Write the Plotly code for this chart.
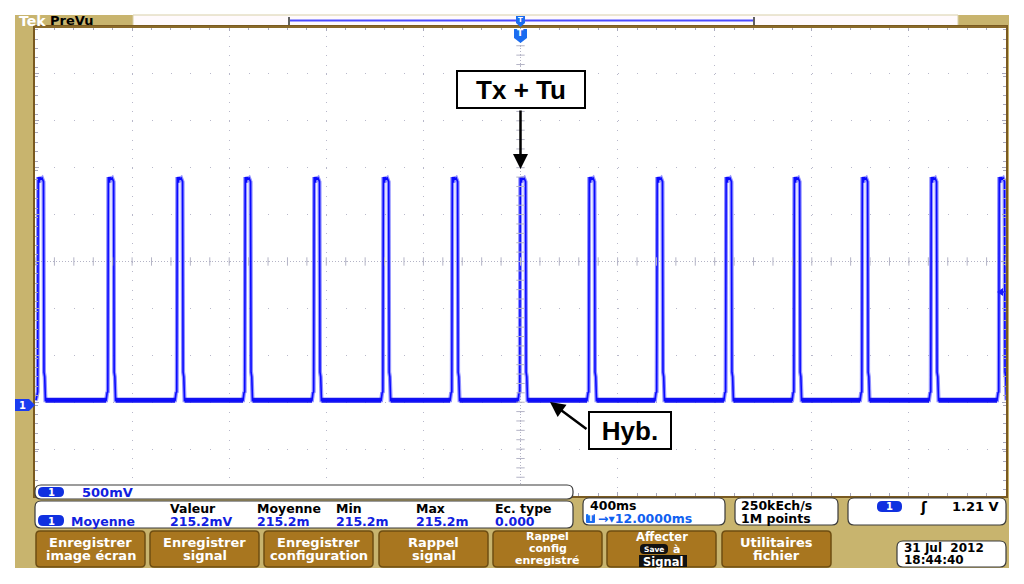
import numpy as np
import plotly.graph_objects as go

# --- data (time in ms, voltage in V) ---
rise_ms = [-1988, -1699, -1415, -1135, -851, -566, -282, -2, 282, 562, 846, 1127, 1407, 1691, 1971]
pulse_dt_ms = [-8, -4, -1, 1, 5, 8, 12, 17, 21, 23, 25, 28, 31]
pulse_v = [0.05, 0.13, 0.14, 2.43, 2.37, 2.43, 2.41, 2.42, 2.40, 2.38, 0.35, 0.30, 0.05]
baseline_v = 0.05

meas_headers = ["Valeur", "Moyenne", "Min", "Max", "Ec. type"]
meas_values = ["215.2mV", "215.2m", "215.2m", "215.2m", "0.000"]
buttons = [["Enregistrer", "image écran"], ["Enregistrer", "signal"], ["Enregistrer", "configuration"],
           ["Rappel", "signal"], ["Rappel", "config", "enregistré"], ["Affecter"],
           ["Utilitaires", "fichier"]]

# the page body adds an 8px margin, so the figure is drawn 8px smaller and
# all reference pixel positions are shifted by OFF
OFF = 8
FIG_W, FIG_H = 1024 - OFF, 584 - OFF

# screen geometry (reference pixels)
L, R, T, B = 35, 1006, 27, 496
W, H = R - L, B - T
X_RANGE = [-2000, 2000]
Y_RANGE = [-0.97, 4.03]
Y_CENTER = 1.53

BLUE = "#0a0aff"
TAN = "#c8b46e"
BROWN = "#a8761f"
FONT = "DejaVu Sans"


def px(x):
    return (x - L) / W


def py(y):
    return (B - y) / H


def rrect(x0, y0, x1, y1, r, fill, line="#3a3a3a", lw=1.2, layer="above"):
    p = (f"M {px(x0 + r)},{py(y0)} L {px(x1 - r)},{py(y0)} Q {px(x1)},{py(y0)} {px(x1)},{py(y0 + r)} "
         f"L {px(x1)},{py(y1 - r)} Q {px(x1)},{py(y1)} {px(x1 - r)},{py(y1)} "
         f"L {px(x0 + r)},{py(y1)} Q {px(x0)},{py(y1)} {px(x0)},{py(y1 - r)} "
         f"L {px(x0)},{py(y0 + r)} Q {px(x0)},{py(y0)} {px(x0 + r)},{py(y0)} Z")
    return dict(type="path", xref="paper", yref="paper", path=p, fillcolor=fill,
                line=dict(color=line, width=lw), layer=layer)


def rect(x0, y0, x1, y1, fill, line=None, lw=0, layer="above"):
    return dict(type="rect", xref="paper", yref="paper", x0=px(x0), x1=px(x1), y0=py(y1), y1=py(y0),
                fillcolor=fill, line=dict(color=line or fill, width=lw), layer=layer)


def hline(x0, x1, y, color, w, layer="above"):
    return dict(type="line", xref="paper", yref="paper", x0=px(x0), x1=px(x1), y0=py(y), y1=py(y),
                line=dict(color=color, width=w), layer=layer)


def vline(x, y0, y1, color, w, layer="above"):
    return dict(type="line", xref="paper", yref="paper", x0=px(x), x1=px(x), y0=py(y0), y1=py(y1),
                line=dict(color=color, width=w), layer=layer)


def poly(pts, fill):
    p = "M " + " L ".join(f"{px(a)},{py(b)}" for a, b in pts) + " Z"
    return dict(type="path", xref="paper", yref="paper", path=p, fillcolor=fill, line=dict(width=0))


def txt(x, y, s, size=12, color="black", anchor="left", bold=True, family=FONT):
    return dict(xref="paper", yref="paper", x=px(x), y=py(y), text=f"<b>{s}</b>" if bold else s,
                showarrow=False, xanchor=anchor, yanchor="middle",
                font=dict(family=family, size=size, color=color))


# --- waveform ---
wx, wy = [], []
for r in rise_ms:
    for dt, v in zip(pulse_dt_ms, pulse_v):
        wx.append(r + dt)
        wy.append(v)

bx, by = [], []
for a, b in zip(rise_ms[:-1], rise_ms[1:]):
    bx += [a + pulse_dt_ms[-1], b + pulse_dt_ms[0], None]
    by += [baseline_v, baseline_v, None]

fig = go.Figure()
fig.add_trace(go.Scatter(x=wx, y=wy, mode="lines", line=dict(color="rgba(100,100,255,0.7)", width=4),
                         hoverinfo="skip"))
fig.add_trace(go.Scatter(x=bx, y=by, mode="lines", line=dict(color="#1414f0", width=5), hoverinfo="skip"))
fig.add_trace(go.Scatter(x=wx, y=wy, mode="lines", line=dict(color=BLUE, width=1.6), hoverinfo="skip"))

# centre cross ticks of the graticule
xm = np.arange(X_RANGE[0], X_RANGE[1] + 1, 80)
ym = Y_CENTER + np.arange(-25, 26) * 0.1
fig.add_trace(go.Scatter(x=xm, y=[Y_CENTER] * len(xm), mode="markers", hoverinfo="skip",
                         marker=dict(symbol="line-ns", size=6, line=dict(color="#b4b4c6", width=1))))
fig.add_trace(go.Scatter(x=[0] * len(ym), y=ym, mode="markers", hoverinfo="skip",
                         marker=dict(symbol="line-ew", size=6, line=dict(color="#b4b4c6", width=1))))

shapes = [
    # instrument frame
    rect(15, 15, 1009, 568, TAN, layer="below"),
    rect(L, T, R, B, "white", layer="below"),
    # top bar
    rect(133, 15, 958, 27, "#fffafc", line="#d8cfa8", lw=1, layer="below"),
    hline(L, R, T, "#8a6a2a", 2),
    hline(290, 753, 20.5, "#4a4aff", 2),
    vline(289, 17, 25, "#606060", 2),
    vline(754, 17, 25, "#606060", 2),
    # graticule centre lines
    dict(type="line", x0=0, x1=0, y0=Y_RANGE[0], y1=Y_RANGE[1],
         line=dict(color="#b4b4c6", width=1, dash="1px,2px"), layer="below"),
    dict(type="line", x0=X_RANGE[0], x1=X_RANGE[1], y0=Y_CENTER, y1=Y_CENTER,
         line=dict(color="#b4b4c6", width=1, dash="1px,2px"), layer="below"),
    vline(R + 1, T, B, "#7a5a20", 2),
    # ground marker
    poly([(15, 399), (29, 399), (35, 405), (29, 411), (15, 411)], "#1a3cf0"),
    # trigger level marker
    poly([(997, 292), (1003, 288), (1003, 296)], "#1a1aff"),
    hline(1000, 1006, 292, "#1a1aff", 1.5),
    # trigger position markers
    poly([(514, 29), (527, 29), (527, 38), (520.5, 43), (514, 38)], "#1a6cf0"),
    poly([(516, 16), (525, 16), (525, 23), (520.5, 27), (516, 23)], "#1a6cf0"),
    # readout boxes
    rrect(35, 485, 573, 499, 6, "white"),
    rrect(35, 501, 573, 528, 6, "white"),
    rrect(583, 498, 725, 525, 6, "white"),
    rrect(735, 498, 838, 525, 6, "white"),
    rrect(848, 498, 1006, 525, 6, "white"),
    rrect(897, 541, 1006, 567, 6, "white"),
    # channel badges
    rrect(38, 487, 64, 497, 5, "#1030e0", line="#1030e0", lw=0),
    rrect(38, 515, 64, 526, 5, "#1030e0", line="#1030e0", lw=0),
    rrect(877, 501, 902, 512, 5, "#1030e0", line="#1030e0", lw=0),
    rrect(586, 514, 595, 523, 1, "#1a6cf0", line="#1a6cf0", lw=0),
]

ann = [
    txt(17, 21, "Tek", 14, "white"),
    txt(48, 20.5, "PreVu", 13, "black"),
    txt(520.5, 33, "T", 9, "white", "center"),
    txt(520.5, 20, "T", 7, "white", "center"),
    txt(22, 405, "1", 10, "white", "center"),
    txt(51, 492, "1", 10, "white", "center"),
    txt(80, 492, "500mV", 13, "#1020e0"),
    txt(51, 521, "1", 10, "white", "center"),
    txt(69, 521, "Moyenne", 12.5, "#1020e0"),
    txt(889.5, 506.5, "1", 10, "white", "center"),
    txt(918, 506.5, "ʃ", 14, "black"),
    txt(1001, 506, "1.21 V", 13, "black", "right"),
    txt(588, 505.5, "400ms", 12.5, "black"),
    txt(590.5, 518.5, "T", 8, "white", "center"),
    txt(596, 518.5, "→▾12.0000ms", 12.5, "#1060f0"),
    txt(739, 505.5, "250kEch/s", 12.5, "black"),
    txt(739, 518.5, "1M points", 12.5, "black"),
    txt(902, 548, "31 Jul  2012", 12, "black"),
    txt(902, 560, "18:44:40", 12, "black"),
]
for xx, h, v in zip([168, 255, 334, 414, 493], meas_headers, meas_values):
    ann.append(txt(xx, 508, h, 12.5, "black"))
    ann.append(txt(xx, 521, v, 12.5, "#1020e0"))

# menu buttons, one annotation per text line
bx0 = [36, 150, 264, 379, 493, 607, 722]
for x0, lines in zip(bx0, buttons):
    shapes.append(rrect(x0, 531, x0 + 109, 567, 4, BROWN, line="#6e4e12", lw=1.5))
    if len(lines) == 2:
        ys, fs = [542.5, 555.5], 13
    elif len(lines) == 3:
        ys, fs = [536.5, 548.5, 560.5], 11
    else:
        ys, fs = [536.5], 11.5
    for yy, s in zip(ys, lines):
        ann.append(txt(x0 + 54.5, yy, s, fs, "white", "center"))
shapes.append(rrect(640, 544, 668, 554, 4, "#111111", line="#111111", lw=0))
shapes.append(rect(639, 555, 687, 567, "#111111"))
ann.append(txt(654, 549.5, "Save", 7.5, "white", "center"))
ann.append(txt(676, 549, "à", 11, "white", "center"))
ann.append(txt(663, 561.5, "Signal", 11.5, "white", "center"))

# callouts
ann.append(dict(xref="paper", yref="paper", x=px(520.5), y=py(89), text="<b>Tx + Tu</b>", showarrow=False,
                font=dict(family="Liberation Sans", size=26, color="black"), bgcolor="white",
                bordercolor="black", borderwidth=2, width=124, height=33, xanchor="center", yanchor="middle"))
ann.append(dict(xref="paper", yref="paper", x=px(520.5), y=py(169), ax=0, ay=-60, text="", showarrow=True,
                arrowhead=2, arrowsize=1.2, arrowwidth=2.5, arrowcolor="black"))
ann.append(dict(xref="paper", yref="paper", x=px(630), y=py(430.5), text="<b>Hyb.</b>", showarrow=False,
                font=dict(family="Liberation Sans", size=26, color="black"), bgcolor="white",
                bordercolor="black", borderwidth=2, width=78, height=33, xanchor="center", yanchor="middle"))
ann.append(dict(xref="paper", yref="paper", x=px(550), y=py(402), ax=38, ay=28, text="", showarrow=True,
                arrowhead=2, arrowsize=1.2, arrowwidth=2.5, arrowcolor="black"))

fig.update_layout(
    width=FIG_W, height=FIG_H,
    margin=dict(l=L - OFF, r=FIG_W - (R - OFF), t=T - OFF, b=FIG_H - (B - OFF), pad=0),
    paper_bgcolor="white", plot_bgcolor="white",
    showlegend=False,
    shapes=shapes, annotations=ann,
    xaxis=dict(range=X_RANGE, tick0=0, dtick=400, showgrid=True, gridcolor="#b8b8ca", gridwidth=1,
               griddash="1px,8.38px", zeroline=False, showticklabels=False, ticks="inside", ticklen=4,
               tickcolor="#a8a8bc", mirror="ticks", showline=True, linecolor="#7a5a20", linewidth=2,
               minor=dict(dtick=80, ticks="inside", ticklen=3, tickcolor="#a8a8bc", showgrid=False),
               fixedrange=True),
    yaxis=dict(range=Y_RANGE, tick0=Y_CENTER, dtick=0.5, showgrid=True, gridcolor="#b8b8ca", gridwidth=1,
               griddash="1px,18.42px", zeroline=False, showticklabels=False, ticks="inside", ticklen=4,
               tickcolor="#a8a8bc", mirror="ticks", showline=True, linecolor="#7a5a20", linewidth=2,
               minor=dict(dtick=0.1, ticks="inside", ticklen=3, tickcolor="#a8a8bc", showgrid=False),
               fixedrange=True),
)

fig.write_html("out.html", config={"displayModeBar": False})
